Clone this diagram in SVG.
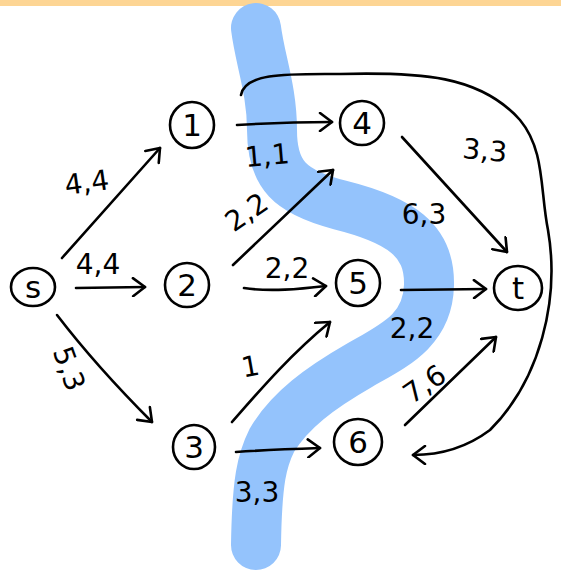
<svg xmlns="http://www.w3.org/2000/svg" width="561" height="573" viewBox="0 0 561 573">
<style>
.n{fill:none;stroke:#000;stroke-width:2.6}
.nt{font-family:"DejaVu Sans",sans-serif;font-size:31px;text-anchor:middle;fill:#000}
.e{fill:none;stroke:#000;stroke-width:2.6;stroke-linecap:round;stroke-linejoin:round}
.l{font-family:"DejaVu Sans",sans-serif;font-size:28px;text-anchor:middle;fill:#000}
</style>
<defs>
<marker id="a" viewBox="-14 -10 16 20" markerWidth="16" markerHeight="20" refX="0" refY="0" orient="auto" markerUnits="userSpaceOnUse">
<path d="M-12,-9 L0,0 L-12,9" fill="none" stroke="#000" stroke-width="2.6" stroke-linecap="round" stroke-linejoin="round"/>
</marker>
</defs>
<rect x="0" y="0" width="561" height="6" fill="#FDD594"/>
<path d="M 256 28 C 260 60, 272 90, 272 130 C 272 175, 290 192, 340 205 C 400 220, 430 240, 429 285 C 428 330, 395 345, 360 365 C 320 388, 290 410, 272 440 C 262 460, 257 480, 256 545" fill="none" stroke="#94C3FC" stroke-width="50" stroke-linecap="round"/>
<g id="edges">
<path class="e" d="M62,258 L160,148" marker-end="url(#a)"/>
<path class="e" d="M76,288 L145,287" marker-end="url(#a)"/>
<path class="e" d="M57,315 C80,345 110,380 152,422" marker-end="url(#a)"/>
<path class="e" d="M237,125 C270,123 300,122 332,122" marker-end="url(#a)"/>
<path class="e" d="M233,265 L333,170" marker-end="url(#a)"/>
<path class="e" d="M244,288 C270,292 300,289 326,286" marker-end="url(#a)"/>
<path class="e" d="M232,422 C260,390 290,355 330,322" marker-end="url(#a)"/>
<path class="e" d="M236,452 C265,450 290,449 320,448" marker-end="url(#a)"/>
<path class="e" d="M402,137 L507,252" marker-end="url(#a)"/>
<path class="e" d="M401,290 L486,289" marker-end="url(#a)"/>
<path class="e" d="M405,425 L496,337" marker-end="url(#a)"/>
<path class="e" d="M241,95 C245,72 290,74 340,74 C420,72 480,75 520,120 C545,150 540,190 548,230 C560,300 540,380 490,430 C470,445 445,455 413,455" marker-end="url(#a)"/>
</g>
<g id="node-s"><ellipse class="n" cx="33" cy="287" rx="22" ry="19"/><text class="nt" x="33" y="298">s</text></g>
<g id="node-1"><ellipse class="n" cx="192" cy="125" rx="22" ry="23"/><text class="nt" x="192" y="136">1</text></g>
<g id="node-2"><ellipse class="n" cx="187" cy="285" rx="22" ry="22"/><text class="nt" x="187" y="296">2</text></g>
<g id="node-3"><ellipse class="n" cx="194" cy="447" rx="21" ry="22"/><text class="nt" x="194" y="458">3</text></g>
<g id="node-4"><ellipse class="n" cx="362" cy="123" rx="22" ry="22"/><text class="nt" x="362" y="134">4</text></g>
<g id="node-5"><ellipse class="n" cx="358" cy="283" rx="22" ry="23"/><text class="nt" x="358" y="294">5</text></g>
<g id="node-6"><ellipse class="n" cx="358" cy="442" rx="24" ry="23"/><text class="nt" x="358" y="453">6</text></g>
<g id="node-t"><ellipse class="n" cx="518" cy="288" rx="24" ry="22"/><text class="nt" x="518" y="299">t</text></g>
<g id="labels">
<text class="l" transform="translate(88,192) rotate(-8)">4,4</text>
<text class="l" transform="translate(98,274)">4,4</text>
<text class="l" transform="translate(60,372) rotate(70)">5,3</text>
<text class="l" transform="translate(268,165) rotate(-5)">1,1</text>
<text class="l" transform="translate(252,220) rotate(-35)">2,2</text>
<text class="l" transform="translate(287,278)">2,2</text>
<text class="l" transform="translate(252,376) rotate(-10)">1</text>
<text class="l" transform="translate(257,502)">3,3</text>
<text class="l" transform="translate(484,160) rotate(5)">3,3</text>
<text class="l" transform="translate(424,224)">6,3</text>
<text class="l" transform="translate(412,338)">2,2</text>
<text class="l" transform="translate(430,392) rotate(-35)">7,6</text>
</g>
</svg>
